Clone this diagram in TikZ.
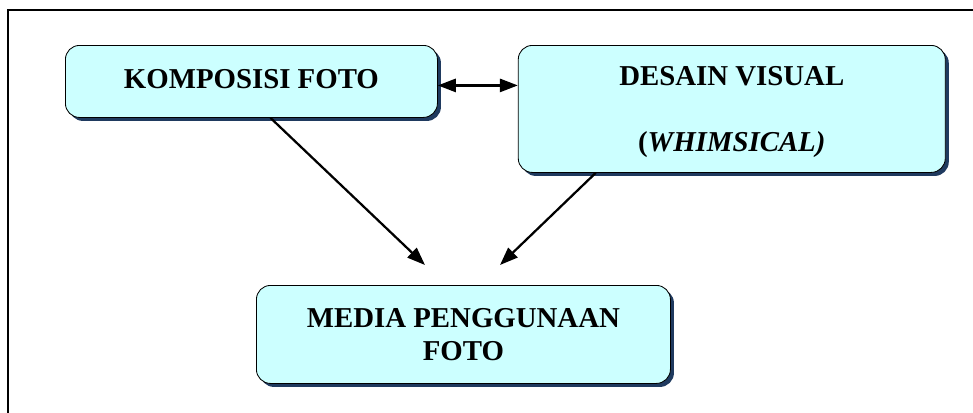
\documentclass[tikz,border=0pt]{standalone}
\usepackage{fontspec}
\setmainfont{Liberation Serif}
\usepackage{tikz}
\usetikzlibrary{arrows.meta,positioning,calc,shadows}
\definecolor{Pale}{HTML}{CCFFFF}
\definecolor{Navy}{HTML}{1F3A5F}
\tikzset{
  arr/.style={-{Triangle[length=4.5mm,width=3.3mm]},line width=1.6pt,draw=black},
  dblarr/.style={{Triangle[length=4.5mm,width=3.3mm]}-{Triangle[length=4.5mm,width=3.3mm]},line width=1.6pt,draw=black},
  fotobox/.style={draw=black,rounded corners=10pt,fill=Pale,line width=0.6pt,align=center,
    font=\fontsize{20.5}{20.5}\selectfont\bfseries,
    drop shadow={shadow xshift=2.5pt,shadow yshift=-2.5pt,fill=Navy,opacity=1}}
}
\begin{document}
\begin{tikzpicture}
  \useasboundingbox (0,0) rectangle (24.325,-10.3);
  % frame
  \draw[line width=1.4pt] (24.5,-0.25) -- (0.2,-0.25) -- (0.2,-10.5);
  \node[fotobox,anchor=north west,minimum width=9.3cm,minimum height=1.8cm] (kompos) at (1.625,-1.125) {\raisebox{4pt}{KOMPOSISI FOTO}};
  \node[fotobox,right=2cm of kompos.north east,anchor=north west,minimum width=10.675cm,minimum height=3.175cm,text depth=0pt] (desain)
    {DESAIN VISUAL\\[0.95cm](\textit{WHIMSICAL)}};
  \node[fotobox,anchor=north west,minimum width=10.35cm,minimum height=2.45cm] (media) at (6.4,-7.125)
    {MEDIA PENGGUNAAN\\[0.1cm]FOTO};
  \coordinate (ujung1) at (10.625,-6.625);
  \coordinate (ujung2) at (12.5,-6.625);
  \draw[dblarr] ([yshift=-0.1cm]kompos.east) -- ([yshift=-0.1cm]kompos.east -| desain.west);
  \draw[arr] ([xshift=0.475cm]kompos.south) -- (ujung1);
  \draw[arr] ([xshift=-3.4cm]desain.south) -- (ujung2);
\end{tikzpicture}
\end{document}
